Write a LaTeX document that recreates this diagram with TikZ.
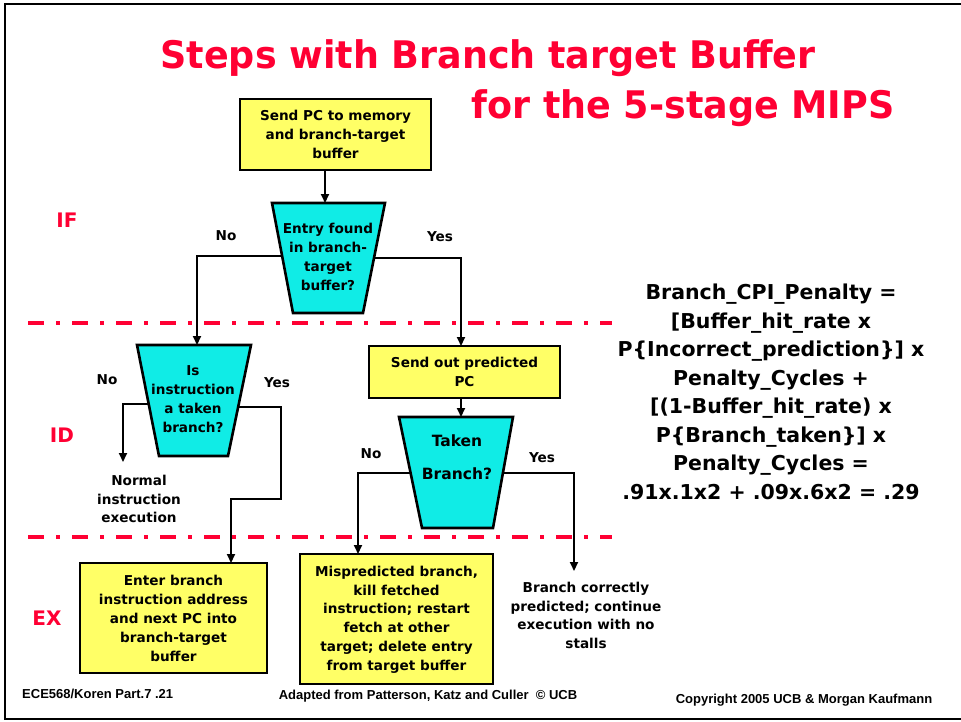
\documentclass[tikz,border=0pt]{standalone}
\usepackage{fontspec}
\setmainfont{DejaVu Sans}
\newfontfamily\titlefont{DejaVu Sans}[FakeStretch=0.96]
\newfontfamily\footfont{Liberation Sans}
\usetikzlibrary{arrows.meta}
\definecolor{slidered}{RGB}{255,0,51}
\definecolor{boxyellow}{RGB}{255,255,102}
\definecolor{trapcyan}{RGB}{16,236,230}
\tikzset{
  flow/.style={font=\fontsize{13.6}{18.8}\selectfont\bfseries, align=center, inner sep=0pt},
  yellowbox/.style={draw, line width=2.6pt, fill=boxyellow, inner sep=0pt},
  trap/.style={draw, line width=2.6pt, fill=trapcyan, line join=miter},
  arr/.style={line width=2pt, -{Triangle[length=9pt,width=8pt]}},
  stage/.style={text=slidered, font=\fontsize{20}{24}\selectfont\bfseries, inner sep=0pt},
  divider/.style={slidered, line width=3.6pt, dash pattern=on 16pt off 12pt on 4pt off 12pt},
  foot/.style={font=\footfont\fontsize{13}{14}\selectfont\bfseries, inner sep=0pt},
  titletext/.style={text=slidered, font=\titlefont\fontsize{38}{40}\selectfont\bfseries, inner sep=0pt},
}
\begin{document}
\begin{tikzpicture}[x=1pt,y=-1pt]
\useasboundingbox (0,0) rectangle (961,721);
% slide frame
\draw[line width=2.6pt] (970,4) -- (5,4) -- (5,719) -- (970,719);

% title
\node[titletext, anchor=base] (t1) at (488,68) {Steps with Branch target Buffer};
\node[titletext, anchor=base] (t2) at (683,118) {for the 5-stage MIPS};

% stage dividers and labels
\draw[divider] (28,323) -- (612,323);
\draw[divider] (28,537) -- (612,537);
\node[stage] (if) at (67,220) {IF};
\node[stage] (id) at (62,435) {ID};
\node[stage] (ex) at (47,618) {EX};

% boxes
\node[yellowbox, minimum width=191pt, minimum height=71pt] (b1) at (335.5,134.5) {};
\node[flow] (b1t) at (335.5,134.5) {Send PC to memory\\and  branch-target\\buffer};
\node[yellowbox, minimum width=191pt, minimum height=52pt] (b2) at (464.5,372) {};
\node[flow] (b2t) at (464.5,372) {Send out predicted\\PC};
\node[yellowbox, minimum width=187pt, minimum height=110pt] (b3) at (173.5,618) {};
\node[flow] (b3t) at (173.5,618.5) {Enter branch\\instruction address\\and next PC into\\branch-target\\buffer};
\node[yellowbox, minimum width=193pt, minimum height=130pt] (b4) at (396.5,619) {};
\node[flow] (b4t) at (396.5,619.5) {Mispredicted branch,\\kill fetched\\instruction; restart\\fetch at other\\target; delete entry\\from target buffer};

% trapezoids
\draw[trap] (272,203) -- (385,203) -- (363,313) -- (293,313) -- cycle;
\node[flow] (q1) at (328,257) {Entry found\\in branch-\\target\\buffer?};
\draw[trap] (137,345) -- (251,345) -- (228,456) -- (159,456) -- cycle;
\node[flow] (q2) at (193,399) {Is\\instruction\\a taken\\branch?};
\draw[trap] (399,417) -- (513,417) -- (493,528) -- (422,528) -- cycle;
\node[flow, font=\fontsize{15.5}{33}\selectfont\bfseries] (q3) at (457,457) {Taken\\Branch?};

% connector points
\coordinate (q1top) at (325,203);
\coordinate (q1L) at (282,256);
\coordinate (q1R) at (374,258);
\coordinate (q2top) at (197,345);
\coordinate (q2L) at (149,404);
\coordinate (q2R) at (238,407);
\coordinate (q3top) at (461,417);
\coordinate (q3L) at (411,473);
\coordinate (q3R) at (503,473);
\coordinate (b2top) at (461,346);
\coordinate (b3top) at (231,563);
\coordinate (b4top) at (358,554);
\coordinate (normend) at (123,462);
\coordinate (okend) at (574,571);
\coordinate (q2bend) at (281,499);

% connectors
\draw[arr] (b1.south -| q1top) -- (q1top);
\draw[arr] (q1L) -| (q2top);
\draw[arr] (q1R) -| (b2top);
\draw[arr] (b2.south -| q3top) -- (q3top);
\draw[arr] (q2L) -| (normend);
\draw[arr] (q2R) -| (q2bend) -| (b3top);
\draw[arr] (q3L) -| (b4top);
\draw[arr] (q3R) -| (okend);

% branch labels
\node[flow] (no1) at (226,236) {No};
\node[flow] (yes1) at (440,237) {Yes};
\node[flow] (no2) at (107,380) {No};
\node[flow] (yes2) at (277,383) {Yes};
\node[flow] (no3) at (371,454) {No};
\node[flow] (yes3) at (542,458) {Yes};

% outcome texts
\node[flow] (normal) at (139,499) {Normal\\instruction\\execution};
\node[flow] (ok) at (586,615.5) {Branch correctly\\predicted; continue\\execution with no\\stalls};

% formula
\node[font=\fontsize{20.5}{28.5}\selectfont\bfseries, align=center, inner sep=0pt] (formula) at (771,392)
 {Branch\_CPI\_Penalty =\\{[}Buffer\_hit\_rate x\\P\{Incorrect\_prediction\}] x\\Penalty\_Cycles +\\{[}(1-Buffer\_hit\_rate) x\\P\{Branch\_taken\}] x\\Penalty\_Cycles =\\.91x.1x2 + .09x.6x2 = .29};

% footer
\node[foot, anchor=base west] (f1) at (22,698) {ECE568/Koren Part.7 .21};
\node[foot, anchor=base] (f2) at (428,699) {Adapted from Patterson, Katz and Culler \ {\footfont\textcopyright} UCB};
\node[foot, anchor=base] (f3) at (804,703) {Copyright 2005 UCB \& Morgan Kaufmann};
\end{tikzpicture}
\end{document}
